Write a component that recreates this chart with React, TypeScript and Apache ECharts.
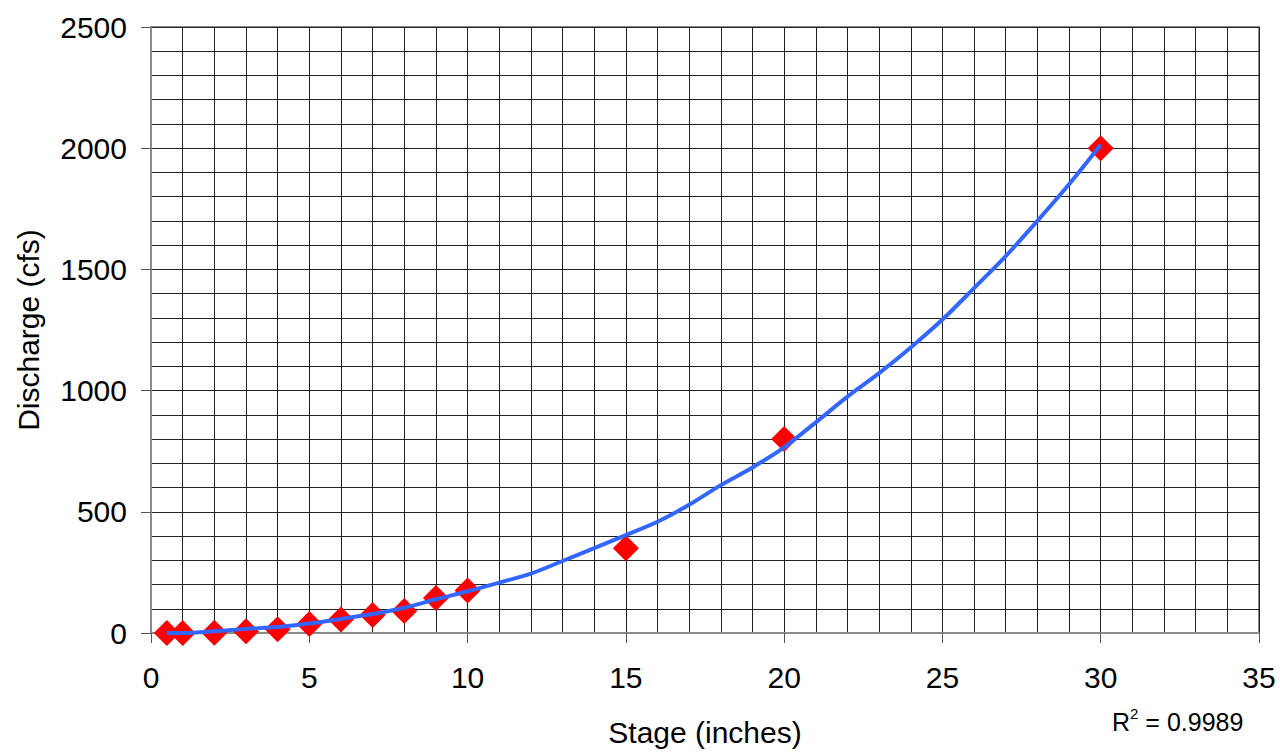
import React, { useEffect, useRef } from "react";
import * as echarts from "echarts";

const stage = [0.5, 1, 2, 3, 4, 5, 6, 7, 8, 9, 10, 15, 20, 30];
const discharge = [0, 0, 1, 7, 15, 37, 56, 74, 91, 144, 175, 350, 800, 2000];

const trendStage = [0.5, 1, 2, 3, 4, 5, 6, 7, 8, 9, 10, 11, 12, 13, 14, 15, 16, 17, 18, 19, 20, 21, 22, 23, 24, 25, 26, 27, 28, 29, 30];
const trendDischarge = [0, 0, 7, 17, 25, 39, 58, 78, 104, 139, 172, 208, 245, 297, 350, 404, 459, 529, 610, 683, 766, 869, 975, 1072, 1178, 1293, 1423, 1555, 1700, 1851, 2014];

const xTicks = { min: 0, max: 35, interval: 5 };
const yTicks = { min: 0, max: 2500, interval: 500 };

const FONT = "'Liberation Sans', Arial, sans-serif";

export default function App() {
  const ref = useRef<HTMLDivElement>(null);
  useEffect(() => {
    if (!ref.current) return;
    const chart = echarts.init(ref.current, undefined, { renderer: "svg" });
    const gridLine = { show: true, lineStyle: { color: "#222", width: 1 } };
    chart.setOption({
      animation: false,
      backgroundColor: "#fff",
      textStyle: { fontFamily: FONT },
      grid: {
        left: 151,
        right: 21,
        top: 27,
        bottom: 119,
        show: true,
        borderColor: "#8a8a8a",
        borderWidth: 2,
        backgroundColor: "transparent",
      },
      xAxis: {
        type: "value",
        min: xTicks.min,
        max: xTicks.max,
        interval: xTicks.interval,
        name: "Stage (inches)",
        nameLocation: "middle",
        nameGap: 84,
        nameTextStyle: { fontSize: 30, color: "#000", fontFamily: FONT },
        axisLine: { show: true, onZero: false, lineStyle: { color: "#8a8a8a", width: 2 } },
        axisTick: { show: true, inside: false, length: 10, lineStyle: { color: "#555", width: 1 } },
        axisLabel: { fontSize: 30, color: "#000", margin: 29, fontFamily: FONT, formatter: (v: number) => String(v) },
        splitLine: gridLine,
        minorTick: { show: false, splitNumber: 5 },
        minorSplitLine: gridLine,
      },
      yAxis: {
        type: "value",
        min: yTicks.min,
        max: yTicks.max,
        interval: yTicks.interval,
        name: "Discharge (cfs)",
        nameLocation: "middle",
        nameGap: 108,
        nameTextStyle: { fontSize: 30, color: "#000", fontFamily: FONT },
        axisLine: { show: true, onZero: false, lineStyle: { color: "#8a8a8a", width: 2 } },
        axisTick: { show: true, inside: false, length: 10, lineStyle: { color: "#555", width: 1 } },
        axisLabel: { fontSize: 30, color: "#000", margin: 24, fontFamily: FONT, formatter: (v: number) => String(v) },
        splitLine: gridLine,
        minorTick: { show: false, splitNumber: 5 },
        minorSplitLine: gridLine,
      },
      series: [
        {
          type: "scatter",
          data: stage.map((s, i) => [s, discharge[i]]),
          symbol: "diamond",
          symbolSize: 26,
          itemStyle: { color: "#ff0000", opacity: 1 },
          z: 3,
        },
        {
          type: "line",
          data: trendStage.map((s, i) => [s, trendDischarge[i]]),
          showSymbol: false,
          symbol: "none",
          smooth: 0.3,
          lineStyle: { color: "#3366ff", width: 4 },
          z: 4,
        },
      ],
      graphic: [
        {
          type: "text",
          left: 1112,
          top: 706,
          style: {
            text: "{a|R}{s|2}{a| = 0.9989}",
            fontFamily: FONT,
            fill: "#000",
            rich: {
              a: { fontSize: 25, fontFamily: FONT, fill: "#000", verticalAlign: "bottom", lineHeight: 28 },
              s: { fontSize: 15, fontFamily: FONT, fill: "#000", verticalAlign: "top", lineHeight: 28 },
            },
          },
        },
      ],
    });
    return () => chart.dispose();
  }, []);
  return <div ref={ref} style={{ width: 1280, height: 752, position: "absolute", left: 0, top: 0 }} />;
}
